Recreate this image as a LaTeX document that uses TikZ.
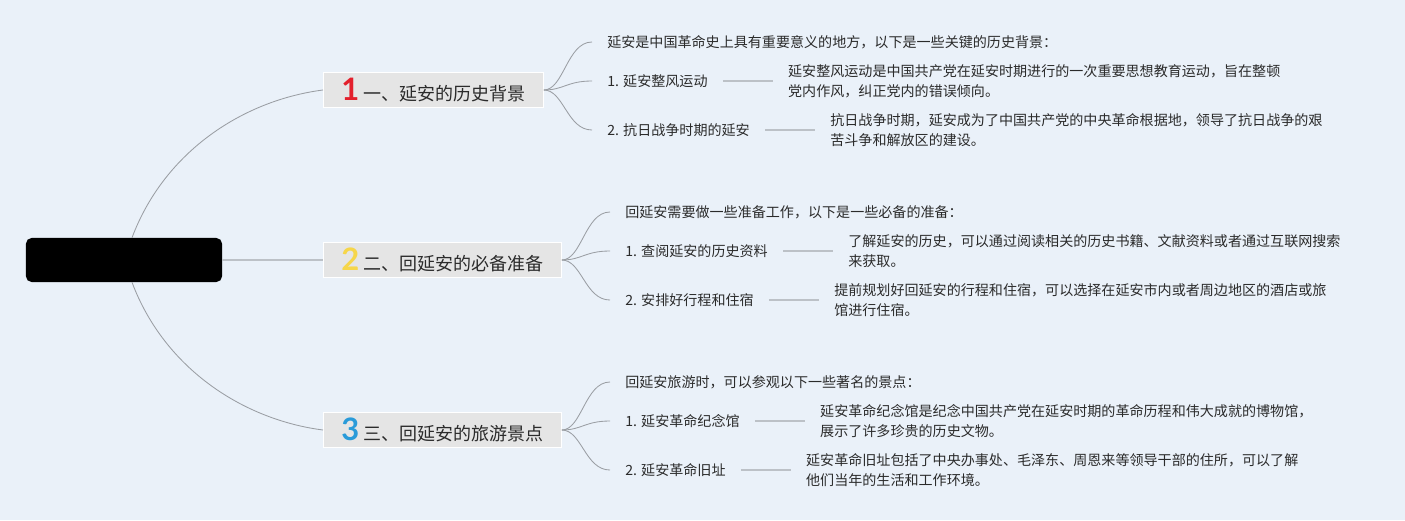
\documentclass[tikz,border=0pt]{standalone}
\usepackage{fontspec}
\setmainfont{Noto Sans CJK SC}
\newfontfamily\numfont{Lato}
\usetikzlibrary{positioning}

\definecolor{bgblue}{HTML}{EAF1F9}
\definecolor{linegray}{HTML}{9A9EA3}
\definecolor{stubgray}{HTML}{BCC1C7}
\definecolor{boxgray}{HTML}{E5E5E5}
\definecolor{textdark}{HTML}{2B2B2B}
\definecolor{numred}{HTML}{E3202C}
\definecolor{numyellow}{HTML}{F6D64A}
\definecolor{numblue}{HTML}{2A9BD9}

\newcommand\topicnum[2]{{\numfont\bfseries\fontsize{22}{22}\selectfont\color{#1}#2}\hspace{0.1cm}}

\begin{document}
\begin{tikzpicture}[
  x=0.025cm, y=-0.025cm,
  root/.style={rectangle,rounded corners=4pt,fill=black,minimum width=4.9cm,minimum height=1.1cm,inner sep=0pt},
  topic/.style={rectangle,fill=boxgray,draw=white,line width=0.6pt,minimum height=0.875cm,
    inner xsep=0.45cm,inner ysep=0pt,anchor=west,text=textdark,font=\fontsize{12.8}{15}\selectfont},
  leaf/.style={anchor=west,inner xsep=0.375cm,inner ysep=1pt,text=textdark,font=\fontsize{10}{14.2}\selectfont},
  note/.style={align=left,inner xsep=0.375cm,inner ysep=1pt,text=textdark,font=\fontsize{10}{14.2}\selectfont},
  twig/.style={linegray,line width=0.6pt},
  stub/.style={stubgray,line width=1.3pt},
]
\fill[bgblue] (0,0) rectangle (1405,520);
\useasboundingbox (0,0) rectangle (1405,520);

% ---------- centre and the three topics ----------
\node[root] (root) at (124,260) {};
\node[topic] (t1) at (323,90) {\topicnum{numred}{1}一、延安的历史背景};
\node[topic] (t2) at (323,260) {\topicnum{numyellow}{2}二、回延安的必备准备};
\node[topic] (t3) at (323,430) {\topicnum{numblue}{3}三、回延安的旅游景点};

\draw[twig] ([xshift=0.2cm]root.north) .. controls (165,150) and (245,100) .. (t1.west);
\draw[stub] (root.east) -- (t2.west);
\draw[twig] ([xshift=0.2cm]root.south) .. controls (165,370) and (245,420) .. (t3.west);

% ---------- topic 1 ----------
\node[leaf] (l10) at (592,42) {延安是中国革命史上具有重要意义的地方，以下是一些关键的历史背景：};
\node[leaf] (l11) at (592,81) {1. 延安整风运动};
\node[leaf] (l12) at (592,130) {2. 抗日战争时期的延安};
\node[note,right=1.25cm of l11] (n11)
  {延安整风运动是中国共产党在延安时期进行的一次重要思想教育运动，旨在整顿\\党内作风，纠正党内的错误倾向。};
\node[note,right=1.25cm of l12] (n12)
  {抗日战争时期，延安成为了中国共产党的中央革命根据地，领导了抗日战争的艰\\苦斗争和解放区的建设。};
\foreach \leafname in {l10,l11,l12}
  \draw[twig] (t1.east) .. controls +(20,0) and +(-25,0) .. (\leafname.west);
\draw[stub] (l11.east) -- (n11.west);
\draw[stub] (l12.east) -- (n12.west);

% ---------- topic 2 ----------
\node[leaf] (l20) at (610,212) {回延安需要做一些准备工作，以下是一些必备的准备：};
\node[leaf] (l21) at (610,251) {1. 查阅延安的历史资料};
\node[leaf] (l22) at (610,300) {2. 安排好行程和住宿};
\node[note,right=1.25cm of l21] (n21)
  {了解延安的历史，可以通过阅读相关的历史书籍、文献资料或者通过互联网搜索\\来获取。};
\node[note,right=1.25cm of l22] (n22)
  {提前规划好回延安的行程和住宿，可以选择在延安市内或者周边地区的酒店或旅\\馆进行住宿。};
\foreach \leafname in {l20,l21,l22}
  \draw[twig] (t2.east) .. controls +(20,0) and +(-25,0) .. (\leafname.west);
\draw[stub] (l21.east) -- (n21.west);
\draw[stub] (l22.east) -- (n22.west);

% ---------- topic 3 ----------
\node[leaf] (l30) at (610,382) {回延安旅游时，可以参观以下一些著名的景点：};
\node[leaf] (l31) at (610,421) {1. 延安革命纪念馆};
\node[leaf] (l32) at (610,470) {2. 延安革命旧址};
\node[note,right=1.25cm of l31] (n31)
  {延安革命纪念馆是纪念中国共产党在延安时期的革命历程和伟大成就的博物馆，\\展示了许多珍贵的历史文物。};
\node[note,right=1.25cm of l32] (n32)
  {延安革命旧址包括了中央办事处、毛泽东、周恩来等领导干部的住所，可以了解\\他们当年的生活和工作环境。};
\foreach \leafname in {l30,l31,l32}
  \draw[twig] (t3.east) .. controls +(20,0) and +(-25,0) .. (\leafname.west);
\draw[stub] (l31.east) -- (n31.west);
\draw[stub] (l32.east) -- (n32.west);

\end{tikzpicture}
\end{document}
